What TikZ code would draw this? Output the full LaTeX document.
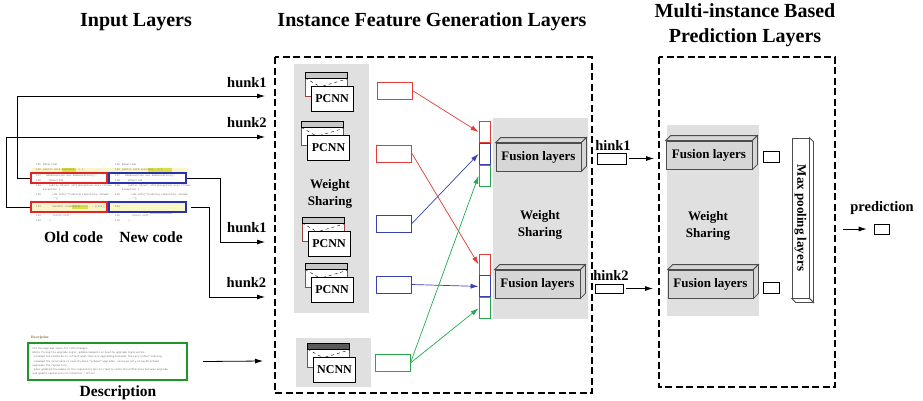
\documentclass[tikz,border=0pt]{standalone}
\usepackage{fontspec}
\setmainfont{Liberation Serif}
\setmonofont{Liberation Mono}
\usetikzlibrary{arrows.meta, calc, positioning}

\definecolor{redc}{RGB}{228,36,36}
\definecolor{bluec}{RGB}{40,50,170}
\definecolor{greenc}{RGB}{30,150,40}
\definecolor{featred}{RGB}{228,60,55}
\definecolor{featblue}{RGB}{55,65,175}
\definecolor{featgreen}{RGB}{35,170,75}
\definecolor{panelgray}{RGB}{224,224,224}
\definecolor{facegray}{RGB}{214,214,214}
\definecolor{brownc}{RGB}{150,70,60}
\definecolor{codegray}{RGB}{105,105,105}
\definecolor{hiyellow}{RGB}{250,245,200}
\definecolor{hilime}{RGB}{215,225,70}
\definecolor{olivec}{RGB}{120,115,40}

\tikzset{
  arr/.style = {-{Latex[length=8pt,width=5pt]}, line width=0.8pt},
  carr/.style = {-{Latex[length=8pt,width=5pt]}, line width=0.7pt},
}

\begin{document}
\begin{tikzpicture}[x=1pt, y=-1pt,
  title/.style = {font=\fontsize{20}{25}\selectfont\bfseries, align=center},
  lbl/.style = {font=\fontsize{14.5}{16}\selectfont\bfseries},
  sub/.style = {font=\fontsize{15.5}{17}\selectfont\bfseries},
  wtxt/.style = {font=\fontsize{13}{17}\selectfont\bfseries, align=center},
  layerbox/.style = {draw, line width=1.7pt, dash pattern=on 7pt off 3.5pt},
  cnn/.style = {draw, line width=1pt, fill=white, minimum width=42pt, minimum height=25pt,
    inner sep=0pt, font=\fontsize{12}{14}\selectfont\bfseries},
  feat/.style = {draw, line width=0.9pt, fill=white, minimum width=35pt, minimum height=17pt, inner sep=0pt},
  cell/.style = {draw, line width=0.9pt, fill=white, minimum width=11pt, minimum height=21pt, inner sep=0pt},
  fusion/.style = {draw=black!70, line width=0.8pt, fill=facegray, minimum width=85pt, minimum height=28pt,
    inner sep=0pt, font=\fontsize{13}{15}\selectfont\bfseries},
  face/.style = {draw=black!70, line width=0.8pt, fill=facegray},
  smallbox/.style = {draw, line width=0.7pt, fill=white, minimum width=16pt, minimum height=11pt, inner sep=0pt},
  codebox/.style = {line width=2.3pt, minimum width=76pt, minimum height=10pt, inner sep=0pt},
  codetxt/.style = {font=\fontsize{2.6}{3}\ttfamily, text=codegray, inner sep=0pt, anchor=west},
]
\useasboundingbox (0,0) rectangle (923,400);

% titles
\node[title] (tin) at (136,22) {Input Layers};
\node[title] (tgen) at (432,22) {Instance Feature Generation Layers};
\node[title] (tpred) at (745,25) {Multi-instance Based\\Prediction Layers};

% dashed layer frames
\draw[layerbox] (275,57) rectangle (592,393);
\draw[layerbox] (659,57) rectangle (835,387);

% gray panels
\fill[panelgray] (294,64) rectangle (369,313);
\fill[panelgray] (296,338) rectangle (371,387);
\fill[panelgray] (493,118) rectangle (588,319);
\fill[panelgray] (667,125) rectangle (759,316);

% code snippet
\fill[hiyellow] (32,167.5) rectangle (188,172.5);
\fill[hiyellow] (31,202) rectangle (186,212);
\fill[hilime] (62,168) rectangle (76,172);
\fill[hilime] (148,168) rectangle (172,172);
\fill[hilime] (72,205) rectangle (88,209);
\fill[hilime] (150,212) rectangle (172,214);
\foreach \cx in {36,115} {
  \foreach \y/\n/\t in {165/125/{@Override}, 170/126/{public void execute(...) \{},
      176/127/{\ \ KAUException exe KAUException();}, 181/128/{\ \ \ \ @Override},
      186/129/{\ \ \ \ public Object info(Exception exe) throws}, 190//{Exception \{},
      195/130/{\ \ \ \ \ \ LOG.info("Creating repository schema}, 199//{\ \ \ \ ...");},
      207/131/{}, 216/132/{\ \ \ \ \ \ return null;}, 221/133/{\ \ \ \ \}}} {
    \node[codetxt] at (\cx,\y) {\n};
    \node[codetxt] at (\cx+7,\y) {\t};
  }
}
\node[codetxt] at (43,207) {\ \ \ \ \ \ handler.createAll(.........)(exe);};
\node[codebox, draw=redc] (oc1) at (69,178) {};
\node[codebox, draw=redc] (oc2) at (69,207) {};
\node[codebox, draw=bluec, minimum width=77pt] (nc1) at (147.5,178) {};
\node[codebox, draw=bluec, minimum width=77pt] (nc2) at (147.5,207) {};
\node[sub] (old) at (73.5,237) {Old code};
\node[sub] (new) at (151,237) {New code};

% description
\node[font=\fontsize{3.5}{4}\selectfont\bfseries, text=olivec, anchor=west, inner sep=0pt] (dhead) at (31,338) {Description};
\node[draw=greenc, line width=2.4pt, minimum width=159pt, minimum height=37pt, inner sep=3pt,
  text width=150pt, align=left, font=\fontsize{2.6}{4.2}\ttfamily, text=codegray] (desc) at (107.5,361.5)
  {Fix the upgrade logic for LXXX changes.\\
   While fixing the upgrade logic, added comments on how the upgrade logic works.\\
   -renamed test methods to reflect what they are upgrading and what they are infact testing\\
   -renamed the internals to exactly mean "schema" upgrades, since we only allow db schema\\
   upgrades the repository\\
   -Also updated the names on the repository api to clearly state the difference between upgrade\\
   and update operations on connector / driver.};
\node[sub] (dlbl) at (118,393) {Description};

% hunk inputs
\coordinate (in1) at (265,96);
\coordinate (in2) at (265,137);
\coordinate (in3) at (265,242);
\coordinate (in4) at (265,297);
\coordinate (in5) at (263,361);
\node[lbl] at (247,83) {hunk1};
\node[lbl] at (247,123) {hunk2};
\node[lbl] at (247,228) {hunk1};
\node[lbl] at (246.5,283) {hunk2};
\draw[arr] (oc1.west) -- ++(-12,0) |- (in1);
\draw[arr] (oc2.west) -- ++(-23,0) |- (in2);
\draw[arr] (nc1.east) -- ++(33,0) |- (in3);
\draw[arr] ([xshift=4pt]nc2.east) -- ++(18,0) |- (in4);
\draw[arr] ([xshift=15pt]desc.east) -- (in5);

% CNN icons
\foreach \n/\x/\y/\t/\c in {p1/332/98.5/PCNN/black!22, p2/328.5/148/PCNN/black!22,
    p3/329/243.5/PCNN/black!22, p4/332/290/PCNN/black!22, nc/334.5/369.5/NCNN/black!65} {
  \begin{scope}[shift={(\x,\y)}]
    \draw[brownc, fill=white, line width=0.7pt] (-27,-26.5) rectangle (15,-2.5);
    \draw[fill=\c, line width=0.6pt] (-27,-26.5) rectangle (15,-20.5);
    \draw[dashed, line width=0.4pt] (-27,-20.5) -- (-13,-12.5) (-9,-12.5) -- (15,-19.5);
  \end{scope}
  \node[cnn] (\n) at (\x,\y) {\t};
}
\node[wtxt] at (330,194) {Weight\\Sharing};

% instance features
\node[feat, draw=featred] (f1) at (394.5,90.5) {};
\node[feat, draw=featred] (f2) at (394,153.5) {};
\node[feat, draw=featblue] (f3) at (394,223.5) {};
\node[feat, draw=featblue] (f4) at (394,284.5) {};
\node[feat, draw=featgreen] (f5) at (392.5,363) {};

% concatenated columns
\node[cell, draw=featred] (ur) at (484.5,132) {};
\node[cell, draw=featblue, below=0pt of ur] (ub) {};
\node[cell, draw=featgreen, below=0pt of ub] (ug) {};
\node[cell, draw=featred] (lr) at (484.5,264.5) {};
\node[cell, draw=featblue, below=0pt of lr] (lb) {};
\node[cell, draw=featgreen, below=0pt of lb] (lg) {};

\draw[carr, featred] (f1.east) -- (ur.west);
\draw[carr, featred] (f2.east) -- (lr.west);
\draw[carr, featblue] (f3.east) -- (ub.west);
\draw[carr, featblue] (f4.east) -- (lb.west);
\draw[carr, featgreen] (f5.east) -- (ug.west);
\draw[carr, featgreen] (f5.east) -- (lg.west);

% fusion layers
\node[fusion] (fu1) at (538.5,157) {Fusion layers};
\node[fusion] (fu2) at (537.5,284) {Fusion layers};
\node[fusion, minimum width=86pt] (fr1) at (709,155) {Fusion layers};
\node[fusion] (fr2) at (710.5,284) {Fusion layers};
\foreach \f in {fu1,fu2,fr1,fr2} {
  \draw[face] (\f.north west) -- ++(5,-5) -- ($(\f.north east)+(5,-5)$) -- (\f.north east) -- cycle;
  \draw[face] (\f.north east) -- ++(5,-5) -- ($(\f.south east)+(5,-5)$) -- (\f.south east) -- cycle;
}
\node[wtxt] at (540,225) {Weight\\Sharing};
\node[wtxt] at (708,226) {Weight\\Sharing};

% hink vectors
\node[lbl] (hk1) at (613,145) {hink1};
\node[lbl] (hk2) at (611,275) {hink2};
\node[smallbox, minimum width=29pt] (hb1) at (611.5,158.5) {};
\node[smallbox, minimum width=28pt, minimum height=9pt] (hb2) at (609,288.5) {};
\coordinate (hin1) at (654,158.5);
\coordinate (hin2) at (653,288.5);
\draw[arr] ([xshift=3pt]hb1.east) -- (hin1);
\draw[arr] ([xshift=3pt]hb2.east) -- (hin2);

\node[smallbox] (rb1) at (771,156.5) {};
\node[smallbox] (rb2) at (771,288) {};

% max pooling
\node[draw=black!70, line width=0.8pt, fill=white, minimum width=17pt, minimum height=160pt, inner sep=0pt,
  font=\fontsize{13}{15}\selectfont\bfseries] (mp) at (800.5,218) {\rotatebox{-90}{Max pooling layers}};
\draw[face, fill=white] (mp.north east) -- ++(4,4) -- ($(mp.south east)+(4,4)$) -- (mp.south east) -- cycle;
\draw[face, fill=white] (mp.south west) -- ++(4,4) -- ($(mp.south east)+(4,4)$) -- (mp.south east) -- cycle;

% prediction
\node[lbl] (plbl) at (882,208) {prediction};
\node[smallbox, minimum width=15pt, minimum height=10pt] (pb) at (881.5,229) {};
\coordinate (pout) at (843,229);
\draw[arr] (pout) -- ([xshift=-7pt]pb.west);
\end{tikzpicture}
\end{document}
